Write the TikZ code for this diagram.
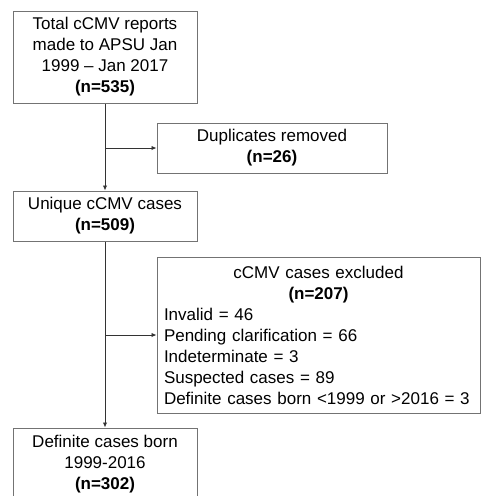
\documentclass[tikz,border=0pt]{standalone}
\usepackage{fontspec}
\setmainfont{Liberation Sans}
\usetikzlibrary{arrows.meta}
\begin{document}
\begin{tikzpicture}[x=1pt,y=-1pt,
  box/.style={draw=black!55,line width=1pt,rectangle,inner sep=0pt,align=center,
    font=\fontsize{17}{21}\selectfont},
  conn/.style={draw=black!80,line width=0.9pt,-{Latex[length=5pt,width=4.5pt]}}]
\useasboundingbox (0,0) rectangle (481,496);
\node[box,minimum width=184pt,minimum height=92pt] (total) at (105,57)
  {Total cCMV reports\\made to APSU Jan\\1999 -- Jan 2017\\\textbf{(n=535)}};
\node[box,minimum width=230pt,minimum height=50pt] (dup) at (272,148)
  {Duplicates removed\\\textbf{(n=26)}};
\node[box,minimum width=184pt,minimum height=50pt] (uniq) at (105,216)
  {Unique cCMV cases\\\textbf{(n=509)}};
\node[box,minimum width=323pt,minimum height=156pt,inner xsep=7pt,text width=309pt,align=left] (excl) at (318.5,335)
  {\makebox[309pt][c]{cCMV cases excluded}\\
   \makebox[309pt][c]{\textbf{(n=207)}}\\
   Invalid = 46\\
   Pending clarification = 66\\
   Indeterminate = 3\\
   Suspected cases = 89\\
   Definite cases born <1999 or >2016 = 3};
\node[box,minimum width=184pt,minimum height=72pt] (def) at (105,464)
  {Definite cases born\\1999-2016\\\textbf{(n=302)}};
\coordinate (b1) at (total.south |- dup.west);
\coordinate (b2) at (uniq.south |- excl.west);
\draw[conn] (total.south) -- (uniq.north);
\draw[conn] (b1) -- (dup.west);
\draw[conn] (uniq.south) -- (def.north);
\draw[conn] (b2) -- (excl.west);
\end{tikzpicture}
\end{document}
